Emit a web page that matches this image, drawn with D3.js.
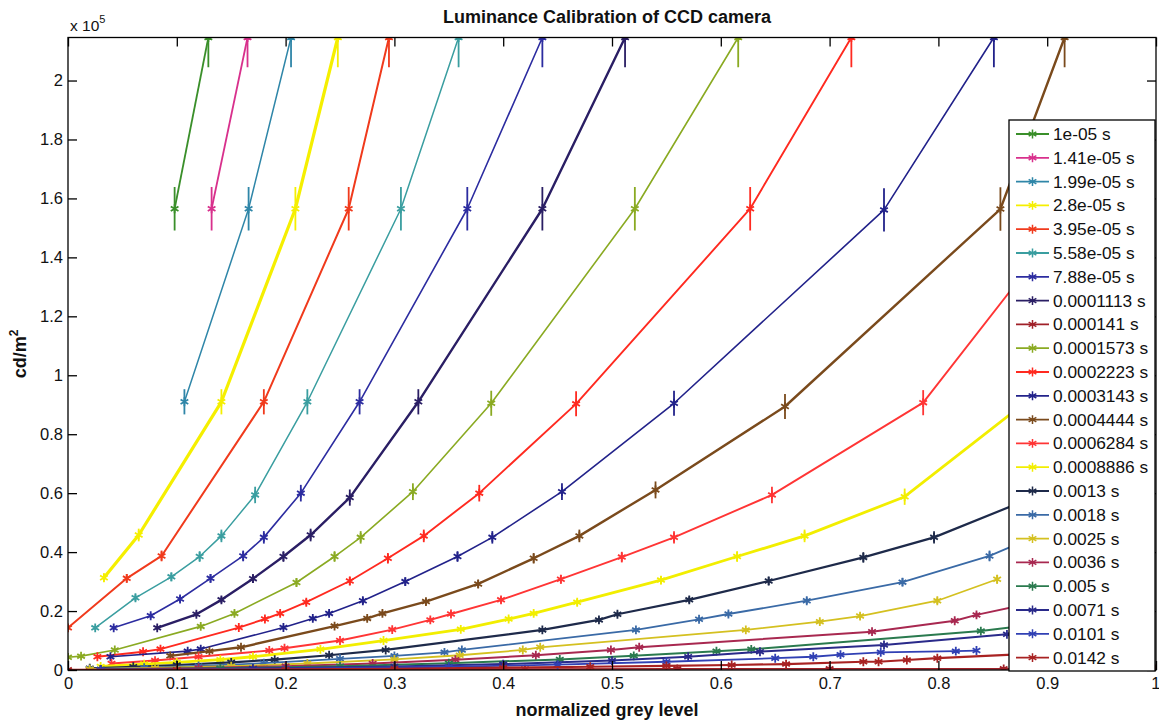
<!DOCTYPE html>
<html>
<head>
<meta charset="utf-8">
<script src="https://cdn.jsdelivr.net/npm/d3@7"></script>
<style>
  body { margin: 0; background: #fff; }
  svg { display: block; font-family: "Liberation Sans", Arial, Helvetica, sans-serif; }
</style>
</head>
<body>
<svg id="chart" width="1159" height="726"></svg>
<script>
// Exposure times of the CCD camera, one curve each
const exposureLabels = [
  "1e-05 s", "1.41e-05 s", "1.99e-05 s", "2.8e-05 s", "3.95e-05 s", "5.58e-05 s",
  "7.88e-05 s", "0.0001113 s", "0.000141 s", "0.0001573 s", "0.0002223 s",
  "0.0003143 s", "0.0004444 s", "0.0006284 s", "0.0008886 s", "0.0013 s",
  "0.0018 s", "0.0025 s", "0.0036 s", "0.005 s", "0.0071 s", "0.0101 s", "0.0142 s"
];

// Normalized grey level of each measurement, per exposure
const greyLevels = [
  [0.098, 0.129],
  [0.132, 0.165],
  [0.107, 0.166, 0.205],
  [0.033, 0.065, 0.141, 0.209, 0.248],
  [0.0, 0.054, 0.086, 0.180, 0.258, 0.295],
  [0.025, 0.062, 0.095, 0.121, 0.141, 0.172, 0.220, 0.306, 0.359],
  [0.042, 0.076, 0.103, 0.131, 0.161, 0.180, 0.214, 0.268, 0.367, 0.436],
  [0.082, 0.118, 0.141, 0.170, 0.198, 0.223, 0.259, 0.322, 0.436, 0.512],
  [0.02, 0.09, 0.16, 0.28, 0.42, 0.56, 0.70, 0.86, 1.0],
  [0.0, 0.012, 0.043, 0.122, 0.153, 0.210, 0.245, 0.269, 0.317, 0.389, 0.521, 0.616],
  [0.027, 0.069, 0.085, 0.157, 0.181, 0.195, 0.219, 0.259, 0.294, 0.327, 0.378, 0.467, 0.627, 0.720],
  [0.039, 0.110, 0.122, 0.198, 0.225, 0.240, 0.271, 0.310, 0.358, 0.390, 0.454, 0.557, 0.750, 0.851],
  [0.094, 0.130, 0.159, 0.245, 0.275, 0.289, 0.329, 0.377, 0.428, 0.470, 0.540, 0.659, 0.857, 0.916],
  [0.04, 0.08, 0.120, 0.185, 0.199, 0.25, 0.298, 0.333, 0.352, 0.398, 0.453, 0.509, 0.557, 0.647, 0.786, 0.925],
  [0.03, 0.07, 0.10, 0.14, 0.17, 0.232, 0.29, 0.361, 0.405, 0.428, 0.468, 0.545, 0.615, 0.677, 0.769, 0.879],
  [0.02, 0.06, 0.10, 0.15, 0.19, 0.24, 0.292, 0.436, 0.488, 0.505, 0.571, 0.644, 0.731, 0.796, 0.900],
  [0.02, 0.07, 0.12, 0.18, 0.25, 0.30, 0.346, 0.362, 0.522, 0.580, 0.607, 0.679, 0.767, 0.847, 0.890],
  [0.02, 0.08, 0.15, 0.22, 0.30, 0.36, 0.418, 0.434, 0.623, 0.691, 0.728, 0.799, 0.854],
  [0.03, 0.12, 0.20, 0.28, 0.356, 0.43, 0.499, 0.525, 0.739, 0.815, 0.835, 0.900],
  [0.03, 0.14, 0.25, 0.35, 0.452, 0.52, 0.596, 0.628, 0.839, 0.900],
  [0.03, 0.17, 0.30, 0.40, 0.50, 0.57, 0.636, 0.75, 0.863, 0.95],
  [0.03, 0.2, 0.35, 0.45, 0.55, 0.65, 0.685, 0.71, 0.747, 0.816, 0.835],
  [0.0, 0.1, 0.2, 0.3, 0.4, 0.48, 0.55, 0.61, 0.66, 0.731, 0.745, 0.771, 0.799, 0.9]
];

// Measured luminance (x 10^5 cd/m^2), aligned with greyLevels
const luminance = [
  [1.565, 2.146],
  [1.565, 2.146],
  [0.91, 1.565, 2.146],
  [0.313, 0.458, 0.91, 1.565, 2.146],
  [0.143, 0.311, 0.387, 0.91, 1.565, 2.146],
  [0.143, 0.245, 0.316, 0.385, 0.455, 0.594, 0.91, 1.565, 2.146],
  [0.143, 0.184, 0.241, 0.311, 0.387, 0.45, 0.6, 0.91, 1.565, 2.146],
  [0.143, 0.189, 0.238, 0.31, 0.385, 0.458, 0.585, 0.91, 1.565, 2.146],
  [0.001, 0.002, 0.002, 0.003, 0.003, 0.004, 0.004, 0.004, 0.004],
  [0.043, 0.047, 0.068, 0.148, 0.192, 0.297, 0.385, 0.45, 0.605, 0.905, 1.565, 2.146],
  [0.045, 0.062, 0.071, 0.144, 0.173, 0.192, 0.23, 0.302, 0.379, 0.455, 0.6, 0.903, 1.565, 2.146],
  [0.045, 0.064, 0.071, 0.144, 0.175, 0.192, 0.235, 0.30, 0.385, 0.45, 0.605, 0.905, 1.561, 2.146],
  [0.048, 0.064, 0.077, 0.149, 0.175, 0.192, 0.232, 0.292, 0.379, 0.455, 0.611, 0.894, 1.564, 2.146],
  [0.022, 0.032, 0.045, 0.066, 0.074, 0.1, 0.137, 0.17, 0.19, 0.238, 0.308, 0.383, 0.45, 0.594, 0.907, 1.565],
  [0.012, 0.02, 0.026, 0.035, 0.045, 0.07, 0.1, 0.138, 0.173, 0.192, 0.23, 0.305, 0.385, 0.455, 0.588, 0.905],
  [0.006, 0.011, 0.017, 0.026, 0.035, 0.05, 0.068, 0.136, 0.17, 0.189, 0.238, 0.302, 0.382, 0.45, 0.605],
  [0.004, 0.008, 0.014, 0.023, 0.038, 0.048, 0.06, 0.068, 0.136, 0.172, 0.19, 0.235, 0.298, 0.387, 0.455],
  [0.003, 0.007, 0.013, 0.022, 0.036, 0.05, 0.068, 0.077, 0.136, 0.164, 0.183, 0.235, 0.308],
  [0.002, 0.007, 0.013, 0.022, 0.035, 0.05, 0.068, 0.077, 0.13, 0.167, 0.187, 0.238],
  [0.0015, 0.006, 0.013, 0.023, 0.036, 0.048, 0.064, 0.07, 0.132, 0.16],
  [0.001, 0.005, 0.012, 0.02, 0.032, 0.045, 0.062, 0.085, 0.121, 0.16],
  [0.001, 0.005, 0.011, 0.018, 0.028, 0.04, 0.045, 0.052, 0.06, 0.064, 0.066],
  [0.0005, 0.001, 0.002, 0.004, 0.008, 0.011, 0.014, 0.017, 0.02, 0.028, 0.028, 0.034, 0.04, 0.058]
];

// Relative uncertainty of the luminance meter (error bar half-length)
const lumRelError = 0.047;

// Axis ticks
const xTicks = [0, 0.1, 0.2, 0.3, 0.4, 0.5, 0.6, 0.7, 0.8, 0.9, 1];
const xTickLabels = ["0", "0.1", "0.2", "0.3", "0.4", "0.5", "0.6", "0.7", "0.8", "0.9", "1"];
const yTicks = [0, 0.2, 0.4, 0.6, 0.8, 1, 1.2, 1.4, 1.6, 1.8, 2];
const yTickLabels = ["0", "0.2", "0.4", "0.6", "0.8", "1", "1.2", "1.4", "1.6", "1.8", "2"];
const yMax = 2.146;

// Styling per curve
const colors = [
  "#3a8f2a", "#d8308c", "#2f86a8", "#f5ef00", "#f03a1c", "#3a9ea0",
  "#2c2ca0", "#2a1e64", "#a02028", "#8aaa22", "#ff2a20", "#22228a",
  "#7a4a1c", "#ff3535", "#f2ee00", "#1e2a4a", "#3a6aa6", "#d4c020",
  "#a82850", "#2a7a4e", "#2a2a8a", "#3040b4", "#a82222"
];
const lineWidths = [
  1.8, 1.8, 1.5, 3.2, 2, 1.5, 1.6, 2.4, 1.8, 1.6, 1.9, 1.6,
  2.4, 1.9, 2.8, 2.2, 1.8, 1.8, 2, 2, 2, 1.8, 2.2
];

const svg = d3.select("#chart");
const plotLeft = 68, plotRight = 1156, plotTop = 37.5, plotBottom = 670;

const x = d3.scaleLinear().domain([0, 1]).range([plotLeft, plotRight]);
const y = d3.scaleLinear().domain([0, yMax]).range([plotBottom, plotTop]);

svg.append("defs").append("clipPath").attr("id", "plotArea")
  .append("rect").attr("x", plotLeft).attr("y", plotTop)
  .attr("width", plotRight - plotLeft).attr("height", plotBottom - plotTop);

const plot = svg.append("g").attr("clip-path", "url(#plotArea)");

const line = d3.line().x(d => x(d[0])).y(d => y(d[1]));
const marker = d3.symbol().type(d3.symbolAsterisk).size(55);

exposureLabels.forEach((label, i) => {
  const pts = greyLevels[i].map((g, k) => [g, luminance[i][k]]);
  const g = plot.append("g");
  g.append("path").datum(pts)
    .attr("d", line)
    .attr("fill", "none")
    .attr("stroke", colors[i])
    .attr("stroke-width", lineWidths[i])
    .attr("stroke-linejoin", "round");
  g.selectAll("line.err").data(pts).join("line")
    .attr("class", "err")
    .attr("x1", d => x(d[0])).attr("x2", d => x(d[0]))
    .attr("y1", d => y(d[1] * (1 - lumRelError)))
    .attr("y2", d => y(d[1] * (1 + lumRelError)))
    .attr("stroke", colors[i])
    .attr("stroke-width", 1.8);
  g.selectAll("path.mk").data(pts).join("path")
    .attr("class", "mk")
    .attr("d", marker)
    .attr("transform", d => `translate(${x(d[0])},${y(d[1])})`)
    .attr("fill", "none")
    .attr("stroke", colors[i])
    .attr("stroke-width", 1.8);
});

// Axes box with inward ticks on all sides
const axes = svg.append("g");
axes.append("rect")
  .attr("x", plotLeft).attr("y", plotTop)
  .attr("width", plotRight - plotLeft).attr("height", plotBottom - plotTop)
  .attr("fill", "none").attr("stroke", "#000").attr("stroke-width", 1.3);

const tickLen = 9;
const axisBottom = d3.axisBottom(x).tickValues(xTicks)
  .tickFormat((d, i) => xTickLabels[i]).tickSizeInner(-tickLen).tickSizeOuter(0).tickPadding(7);
const axisTop = d3.axisTop(x).tickValues(xTicks).tickFormat("").tickSizeInner(-tickLen).tickSizeOuter(0);
const axisLeft = d3.axisLeft(y).tickValues(yTicks)
  .tickFormat((d, i) => yTickLabels[i]).tickSizeInner(-tickLen).tickSizeOuter(0).tickPadding(5);
const axisRight = d3.axisRight(y).tickValues(yTicks).tickFormat("").tickSizeInner(-tickLen).tickSizeOuter(0);

function styleAxis(g) {
  g.select(".domain").remove();
  g.selectAll(".tick line").attr("stroke", "#000").attr("stroke-width", 1.3);
  g.selectAll(".tick text").attr("fill", "#111")
    .style("font-size", "16.5px").style("font-family", '"Liberation Sans", Arial, sans-serif');
}
const xAxisG = axes.append("g").attr("transform", `translate(0,${plotBottom})`).call(axisBottom).call(styleAxis);
// keep the last tick label inside the page edge
xAxisG.selectAll(".tick text").filter((d, i) => i === xTicks.length - 1)
  .attr("text-anchor", "end").attr("dx", 4);
axes.append("g").attr("transform", `translate(0,${plotTop})`).call(axisTop).call(styleAxis);
axes.append("g").attr("transform", `translate(${plotLeft},0)`).call(axisLeft).call(styleAxis);
axes.append("g").attr("transform", `translate(${plotRight},0)`).call(axisRight).call(styleAxis);

// Exponent note above the y axis
const expo = svg.append("text").attr("x", 70).attr("y", 31)
  .attr("fill", "#111").style("font-size", "15.5px");
expo.append("tspan").text("x 10");
expo.append("tspan").attr("dy", -8).style("font-size", "11px").text("5");

// Title and axis labels
svg.append("text").attr("x", 607).attr("y", 23).attr("text-anchor", "middle")
  .attr("fill", "#111").style("font-size", "18px").style("font-weight", "bold")
  .text("Luminance Calibration of CCD camera");

svg.append("text").attr("x", 607).attr("y", 716).attr("text-anchor", "middle")
  .attr("fill", "#111").style("font-size", "18px").style("font-weight", "bold")
  .text("normalized grey level");

const ylab = svg.append("text")
  .attr("transform", "translate(26,354) rotate(-90)")
  .attr("text-anchor", "middle").attr("fill", "#111")
  .style("font-size", "18px").style("font-weight", "bold");
ylab.append("tspan").text("cd/m");
ylab.append("tspan").attr("dy", -8).style("font-size", "12px").text("2");

// Legend
const legX = 1009, legY = 120, legW = 146, legH = 551;
const legend = svg.append("g");
legend.append("rect").attr("x", legX).attr("y", legY)
  .attr("width", legW).attr("height", legH)
  .attr("fill", "#fff").attr("stroke", "#000").attr("stroke-width", 1.3);

const rowStep = 23.8, firstRow = 134;
exposureLabels.forEach((label, i) => {
  const cy = firstRow + i * rowStep;
  const row = legend.append("g");
  row.append("line").attr("x1", 1016).attr("x2", 1049).attr("y1", cy).attr("y2", cy)
    .attr("stroke", colors[i]).attr("stroke-width", 1.8);
  row.append("path").attr("d", marker)
    .attr("transform", `translate(1032.5,${cy})`)
    .attr("fill", "none").attr("stroke", colors[i]).attr("stroke-width", 1.5);
  row.append("text").attr("x", 1053).attr("y", cy + 6)
    .attr("fill", "#111").style("font-size", "17.3px").text(label);
});
</script>
</body>
</html>
